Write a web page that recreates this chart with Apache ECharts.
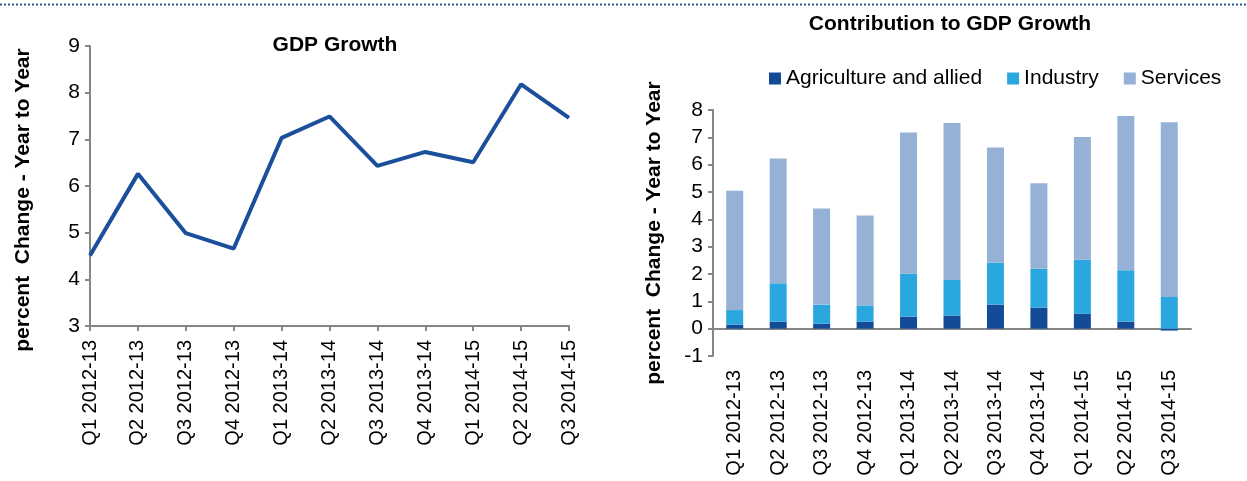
<!DOCTYPE html>
<html>
<head>
<meta charset="utf-8">
<title>GDP Growth</title>
<script src="https://cdn.jsdelivr.net/npm/echarts@6/dist/echarts.min.js"></script>
<style>
    html, body { margin: 0; padding: 0; background: #fff; }
    #chart { width: 1247px; height: 481px; }
</style>
</head>
<body>
<div id="chart"></div>
<script>
const QUARTERS = [
    'Q1 2012-13', 'Q2 2012-13', 'Q3 2012-13', 'Q4 2012-13',
    'Q1 2013-14', 'Q2 2013-14', 'Q3 2013-14', 'Q4 2013-14',
    'Q1 2014-15', 'Q2 2014-15', 'Q3 2014-15'
]

// year-on-year GDP growth, percent
const GDP_GROWTH = [4.51, 6.26, 4.99, 4.66, 7.03, 7.49, 6.43, 6.73, 6.51, 8.18, 7.46]

// contributions to growth, percentage points
const AGRICULTURE = [0.15, 0.26, 0.18, 0.26, 0.44, 0.48, 0.88, 0.77, 0.55, 0.26, -0.07]
const INDUSTRY = [0.53, 1.40, 0.70, 0.59, 1.57, 1.30, 1.54, 1.42, 1.97, 1.88, 1.16]
const SERVICES = [4.37, 4.57, 3.52, 3.29, 5.17, 5.74, 4.21, 3.13, 4.49, 5.64, 6.39]

const AXIS_NAME = 'percent  Change - Year to Year'
const FONT = '"Liberation Sans", Arial, sans-serif'
const AXIS_GREY = '#868686'

const chart = echarts.init(document.getElementById('chart'))

const valueAxis = (gridIndex, min, max, nameGap, namePadding) => ({
    type: 'value',
    gridIndex,
    min,
    max,
    interval: 1,
    name: AXIS_NAME,
    nameLocation: 'middle',
    nameGap,
    nameTextStyle: {
        fontFamily: FONT, fontSize: 21, fontWeight: 'bold', color: '#000', padding: namePadding
    },
    axisLine: { show: true, lineStyle: { color: AXIS_GREY, width: 2 } },
    axisTick: { show: true, length: 5, lineStyle: { color: AXIS_GREY, width: 2 } },
    axisLabel: { fontFamily: FONT, fontSize: 21, color: '#000', margin: 10 },
    splitLine: { show: false }
})

const quarterLabels = { fontFamily: FONT, fontSize: 20, color: '#000', rotate: 90, margin: 14, interval: 0 }

chart.setOption({
    animation: false,
    backgroundColor: '#fff',
    textStyle: { fontFamily: FONT },
    title: [
        {
            text: 'GDP Growth',
            left: 330,
            top: 30,
            textAlign: 'center',
            textStyle: { fontFamily: FONT, fontSize: 21, fontWeight: 'bold', color: '#000' }
        },
        {
            text: 'Contribution to GDP Growth',
            left: 945,
            top: 9,
            textAlign: 'center',
            textStyle: { fontFamily: FONT, fontSize: 21, fontWeight: 'bold', color: '#000' }
        }
    ],
    legend: {
        left: 764,
        top: 63,
        icon: 'rect',
        itemWidth: 12,
        itemHeight: 12,
        itemGap: 25,
        itemTextGap: 10,
        textStyle: { fontFamily: FONT, fontSize: 21, color: '#000' },
        data: ['Agriculture and allied', 'Industry', 'Services']
    },
    grid: [
        { left: 90, right: 678, top: 46, bottom: 155 },
        { left: 713, right: 56, top: 110, bottom: 125 }
    ],
    xAxis: [
        {
            type: 'category',
            gridIndex: 0,
            data: QUARTERS,
            boundaryGap: false,
            axisLine: { onZero: false, lineStyle: { color: AXIS_GREY, width: 2 } },
            axisTick: { length: 5, lineStyle: { color: AXIS_GREY, width: 2 } },
            axisLabel: quarterLabels
        },
        {
            // labels sit under the -1 line
            type: 'category',
            gridIndex: 1,
            position: 'bottom',
            data: QUARTERS,
            axisLine: { show: false, onZero: false },
            axisTick: { show: false },
            axisLabel: quarterLabels
        },
        {
            // zero line with ticks below it
            type: 'category',
            gridIndex: 1,
            position: 'bottom',
            data: QUARTERS,
            axisLine: { onZero: true, onZeroAxisIndex: 1, lineStyle: { color: AXIS_GREY, width: 2 } },
            axisTick: { length: 6, lineStyle: { color: AXIS_GREY, width: 2 } },
            axisLabel: { show: false }
        },
        {
            // same ticks pointing up
            type: 'category',
            gridIndex: 1,
            position: 'bottom',
            data: QUARTERS,
            axisLine: { show: false, onZero: true, onZeroAxisIndex: 1 },
            axisTick: { inside: true, length: 6, lineStyle: { color: AXIS_GREY, width: 2 } },
            axisLabel: { show: false }
        }
    ],
    yAxis: [
        valueAxis(0, 3, 9, 56, [0, 28, 0, 0]),
        valueAxis(1, -1, 8, 48, 0)
    ],
    series: [
        {
            name: 'GDP Growth',
            type: 'line',
            xAxisIndex: 0,
            yAxisIndex: 0,
            data: GDP_GROWTH,
            symbol: 'none',
            lineStyle: { color: '#1b4f9b', width: 4 }
        },
        {
            name: 'Agriculture and allied',
            type: 'bar',
            xAxisIndex: 1,
            yAxisIndex: 1,
            stack: 'contrib',
            barWidth: 17,
            data: AGRICULTURE,
            itemStyle: { color: '#144b97' }
        },
        {
            name: 'Industry',
            type: 'bar',
            xAxisIndex: 1,
            yAxisIndex: 1,
            stack: 'contrib',
            barWidth: 17,
            data: INDUSTRY,
            itemStyle: { color: '#29a7de' }
        },
        {
            name: 'Services',
            type: 'bar',
            xAxisIndex: 1,
            yAxisIndex: 1,
            stack: 'contrib',
            barWidth: 17,
            data: SERVICES,
            itemStyle: { color: '#95b1d6' }
        }
    ],
    graphic: [
        {
            type: 'line',
            silent: true,
            shape: { x1: 0, y1: 4.5, x2: 1247, y2: 4.5 },
            style: { stroke: '#2b579a', lineWidth: 2, lineDash: [2, 2] }
        }
    ]
})
</script>
</body>
</html>
